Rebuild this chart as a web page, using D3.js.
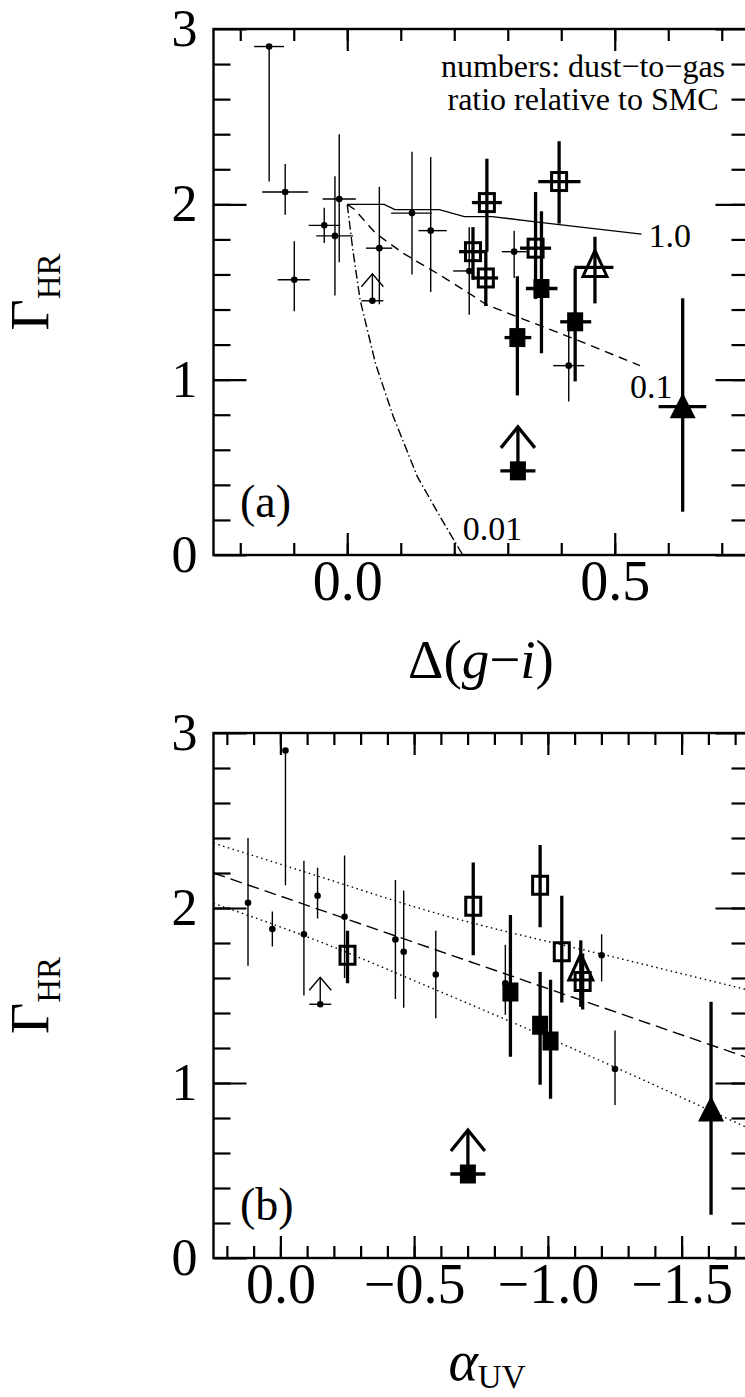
<!DOCTYPE html>
<html>
<head>
<meta charset="utf-8">
<script src="https://cdn.jsdelivr.net/npm/d3@7"></script>
<style>
  html, body { margin: 0; padding: 0; background: #fff; }
  svg { display: block; }
  text { font-family: "Liberation Serif", "Times New Roman", serif; fill: #000; }
</style>
</head>
<body>
<svg id="chart" width="745" height="1397"></svg>
<script>
// ---- data: one entry per source ----
const objType = [
  "dot","dot","dot","dot","dot","dot","dot","dot","dot","dot","dot","dot","dotLimit",
  "open","open","open","open","open",
  "filled","filled","filled","filledLimit",
  "openTri","filledTri"
];
const deltaGI   = [-0.146,-0.116,-0.099,-0.043,-0.023,-0.015,0.060,0.121,0.156,0.228,0.312,0.414,0.047,
                    0.261,0.235,0.259,0.396,0.352, 0.363,0.318,0.426,0.319, 0.463,0.627];
const deltaGILo = [-0.174,-0.159,-0.130,-0.072,-0.058,-0.046,0.035,0.082,0.133,0.198,0.289,0.385,null,
                    0.233,0.209,0.233,0.357,0.323, 0.334,0.294,0.398,null, 0.4245,0.582];
const deltaGIHi = [-0.118,-0.073,-0.070,-0.013,0.011,0.016,0.084,0.158,0.186,0.236,0.335,0.443,null,
                    0.289,0.261,0.282,0.436,0.381, 0.393,0.344,0.456,null, 0.4975,0.671];
const alphaUV   = [-0.019,-0.139,-0.841,0.030,-0.430,0.121,-0.461,-0.240,-0.088,-0.581,-1.201,-1.251,-0.149,
                    -0.721,-0.251,-1.130,-0.971,-1.052, -0.860,-1.010,-0.971,-0.701, -1.123,-1.610];
const gammaHR   = [2.90,2.07,1.57,1.88,1.82,2.03,1.75,1.95,1.85,1.62,1.73,1.08,1.45,
                    2.01,1.73,1.58,2.13,1.75, 1.52,1.24,1.33,0.48, 1.64,0.846];
const gammaLo   = [2.13,1.94,1.39,1.78,1.48,1.67,1.43,1.60,1.50,1.37,1.58,0.875,null,
                    1.73,1.57,1.42,1.89,1.46, 1.15,0.91,0.99,null, 1.435,0.247];
const gammaHi   = [2.90,2.23,1.79,1.98,2.16,2.40,2.10,2.30,2.27,1.87,1.85,1.30,null,
                    2.26,1.87,1.74,2.36,2.07, 1.96,1.59,1.635,null, 1.815,1.464];

// model tracks for dust-to-gas ratio relative to SMC
const curveLabels = ["1.0", "0.1", "0.01"];
const curve10  = [[0,2.0],[0.069,2.0],[0.089,1.97],[0.172,1.97],[0.219,1.93],[0.271,1.93],[0.352,1.90],[0.550,1.83]];
const curve01  = [[0,2.0],[0.014,1.97],[0.053,1.835],[0.105,1.72],[0.177,1.59],[0.229,1.49],[0.261,1.426],[0.430,1.226],[0.547,1.08]];
const curve001 = [[0,2.0],[0.010,1.75],[0.024,1.455],[0.053,1.09],[0.086,0.79],[0.131,0.447],[0.177,0.20],[0.216,0.0]];

// Gamma vs alpha_UV relation and its band
const fitAlpha = [0.25, -1.75];
const fitMid   = [2.20, 1.143];
const bandAlpha = [0.25, -0.143, -0.554, -1.302, -1.75];
const bandUpper = [2.371, 2.181, 1.983, 1.699, 1.531];
const bandLower = [2.027, 1.810, 1.550, 1.055, 0.741];

// tick values
const xTicksA = { minor: d3.range(-0.2, 0.75, 0.1).map(v => +v.toFixed(2)), major: [0.0, 0.5] };
const xTicksB = { minor: d3.range(0.2, -1.76, -0.1).map(v => +v.toFixed(2)), major: [0.0, -0.5, -1.0, -1.5] };
const yTicks  = { minor: d3.range(0.2, 3.0, 0.2).map(v => +v.toFixed(2)), major: [0, 1, 2, 3] };

// ---- layout ----
const svg = d3.select("#chart");
const X0 = 213.5, X1 = 748.5;
const THICK = 3.3, THIN = 1.4;

const xA = d3.scaleLinear().domain([-0.25, 0.75]).range([X0, X1]);
const yA = d3.scaleLinear().domain([0, 3]).range([555, 29]);
const xB = d3.scaleLinear().domain([0.25, -1.75]).range([X0, X1]);
const yB = d3.scaleLinear().domain([0, 3]).range([1258, 733]);

function styleAxis(sel, fontSize) {
  sel.select(".domain").remove();
  sel.selectAll("line").attr("stroke", "#000").attr("stroke-width", 2.2);
  sel.attr("font-family", "Liberation Serif, Times New Roman, serif").attr("font-size", fontSize);
  sel.selectAll("text").attr("fill", "#000");
}

function drawFrame(x, y, xt, fmt) {
  const [yb, yt] = y.range();
  const g = svg.append("g");
  g.append("g").attr("transform", `translate(0,${yb})`)
    .call(d3.axisBottom(x).tickValues(xt.minor).tickSize(-12).tickFormat(""))
    .call(s => styleAxis(s, 56));
  g.append("g").attr("transform", `translate(0,${yb})`)
    .call(d3.axisBottom(x).tickValues(xt.major).tickSize(-22).tickPadding(5).tickFormat(fmt))
    .call(s => styleAxis(s, 56));
  g.append("g").attr("transform", `translate(0,${yt})`)
    .call(d3.axisTop(x).tickValues(xt.minor).tickSize(-12).tickFormat(""))
    .call(s => styleAxis(s, 56));
  g.append("g").attr("transform", `translate(0,${yt})`)
    .call(d3.axisTop(x).tickValues(xt.major).tickSize(-22).tickFormat(""))
    .call(s => styleAxis(s, 56));
  g.append("g").attr("transform", `translate(${X0},0)`)
    .call(d3.axisLeft(y).tickValues(yTicks.minor).tickSize(-17).tickFormat(""))
    .call(s => styleAxis(s, 52));
  g.append("g").attr("transform", `translate(${X0},0)`)
    .call(d3.axisLeft(y).tickValues(yTicks.major).tickSize(-33).tickPadding(16).tickFormat(d3.format("d")))
    .call(s => styleAxis(s, 52));
  g.append("g").attr("transform", `translate(${X1},0)`)
    .call(d3.axisRight(y).tickValues(yTicks.minor).tickSize(-17).tickFormat(""))
    .call(s => styleAxis(s, 52));
  g.append("g").attr("transform", `translate(${X1},0)`)
    .call(d3.axisRight(y).tickValues(yTicks.major).tickSize(-33).tickFormat(""))
    .call(s => styleAxis(s, 52));
  g.append("rect")
    .attr("x", X0).attr("y", yt).attr("width", X1 - X0).attr("height", yb - yt)
    .attr("fill", "none").attr("stroke", "#000").attr("stroke-width", 2.4);
}

function drawPoints(x, y, xv, showXErr) {
  const g = svg.append("g");
  const idx = d3.range(objType.length);
  const order = idx.slice().sort((a, b) =>
    (objType[a].startsWith("dot") ? 0 : 1) - (objType[b].startsWith("dot") ? 0 : 1));
  order.forEach(i => {
    const t = objType[i];
    const cx = x(xv[i]), cy = y(gammaHR[i]);
    const sw = t.startsWith("dot") ? THIN : THICK;
    const ln = (x1, y1, x2, y2) => g.append("line")
      .attr("x1", x1).attr("y1", y1).attr("x2", x2).attr("y2", y2)
      .attr("stroke", "#000").attr("stroke-width", sw);

    if (t.endsWith("Limit")) {
      // lower limit: base bar, shaft and open arrow head
      const big = t === "filledLimit";
      const base = big ? 35 : 22, len = big ? 44 : 27, hw = big ? 17 : 11, hh = big ? 21 : 13;
      ln(cx - base / 2, cy, cx + base / 2, cy);
      ln(cx, cy, cx, cy - len);
      g.append("path")
        .attr("d", `M${cx - hw},${cy - len + hh}L${cx},${cy - len}L${cx + hw},${cy - len + hh}`)
        .attr("fill", "none").attr("stroke", "#000").attr("stroke-width", sw);
    } else {
      ln(cx, y(gammaLo[i]), cx, y(gammaHi[i]));
      if (showXErr) ln(x(deltaGILo[i]), cy, x(deltaGIHi[i]), cy);
    }

    if (t.startsWith("dot")) {
      g.append("circle").attr("cx", cx).attr("cy", cy).attr("r", 3.3).attr("fill", "#000");
    } else if (t === "open") {
      g.append("rect").attr("x", cx - 7.5).attr("y", cy - 9).attr("width", 15).attr("height", 18)
        .attr("fill", "none").attr("stroke", "#000").attr("stroke-width", 3);
    } else if (t === "filled" || t === "filledLimit") {
      g.append("rect").attr("x", cx - 8).attr("y", cy - 9.5).attr("width", 16).attr("height", 19)
        .attr("fill", "#000");
    } else if (t === "openTri") {
      g.append("path").attr("d", `M${cx},${cy - 17}L${cx - 12},${cy + 9}L${cx + 12},${cy + 9}Z`)
        .attr("fill", "none").attr("stroke", "#000").attr("stroke-width", 3);
    } else if (t === "filledTri") {
      g.append("path").attr("d", `M${cx},${cy - 14}L${cx - 13},${cy + 11.5}L${cx + 13},${cy + 11.5}Z`)
        .attr("fill", "#000");
    }
  });
}

// ---------- panel (a) ----------
drawFrame(xA, yA, xTicksA, d3.format(".1f"));

const lineA = d3.line().x(d => xA(d[0])).y(d => yA(d[1]));
const tracks = [
  { pts: curve10,  dash: null,        dx: 7,   dy: 13 },
  { pts: curve01,  dash: "9,6",       dx: -10, dy: 32 },
  { pts: curve001, dash: "9,3,1.5,3", dx: 0,   dy: -15 }
];
tracks.forEach((tr, k) => {
  svg.append("path").attr("d", lineA(tr.pts))
    .attr("fill", "none").attr("stroke", "#000").attr("stroke-width", 1.4)
    .attr("stroke-dasharray", tr.dash);
  const last = tr.pts[tr.pts.length - 1];
  svg.append("text")
    .attr("x", xA(last[0]) + tr.dx).attr("y", yA(last[1]) + tr.dy)
    .attr("font-size", 34).text(curveLabels[k]);
});

drawPoints(xA, yA, deltaGI, true);

svg.append("text").attr("x", 583).attr("y", 77).attr("text-anchor", "middle")
  .attr("font-size", 32).text("numbers: dust\u2212to\u2212gas");
svg.append("text").attr("x", 583).attr("y", 110).attr("text-anchor", "middle")
  .attr("font-size", 32).text("ratio relative to SMC");
svg.append("text").attr("x", 240).attr("y", 517).attr("font-size", 46).text("(a)");

// x title: Δ(g−i)
const tA = svg.append("text").attr("x", 481).attr("y", 678).attr("text-anchor", "middle").attr("font-size", 55);
tA.append("tspan").text("\u0394(");
tA.append("tspan").attr("font-style", "italic").text("g");
tA.append("tspan").text("\u2212");
tA.append("tspan").attr("font-style", "italic").text("i");
tA.append("tspan").text(")");

// ---------- panel (b) ----------
drawFrame(xB, yB, xTicksB, d3.format(".1f"));

svg.append("line")
  .attr("x1", xB(fitAlpha[0])).attr("y1", yB(fitMid[0]))
  .attr("x2", xB(fitAlpha[1])).attr("y2", yB(fitMid[1]))
  .attr("stroke", "#000").attr("stroke-width", 1.4).attr("stroke-dasharray", "12,6");

const bandLine = d3.line().x(d => xB(d[0])).y(d => yB(d[1])).curve(d3.curveMonotoneX);
[bandUpper, bandLower].forEach(vals => {
  svg.append("path").attr("d", bandLine(bandAlpha.map((a, i) => [a, vals[i]])))
    .attr("fill", "none").attr("stroke", "#000").attr("stroke-width", 1.4)
    .attr("stroke-dasharray", "1.5,3.5");
});

drawPoints(xB, yB, alphaUV, false);

svg.append("text").attr("x", 240).attr("y", 1220).attr("font-size", 46).text("(b)");

const tB = svg.append("text").attr("x", 487).attr("y", 1380).attr("text-anchor", "middle");
tB.append("tspan").attr("font-size", 56).attr("font-style", "italic").text("\u03B1");
tB.append("tspan").attr("font-size", 33).attr("dy", 8).text("UV");

// y titles: Γ_HR
[yA, yB].forEach(y => {
  const cy = (y.range()[0] + y.range()[1]) / 2;
  const t = svg.append("text").attr("transform", `translate(48,${cy}) rotate(-90)`)
    .attr("text-anchor", "middle");
  t.append("tspan").attr("font-size", 54).text("\u0393");
  t.append("tspan").attr("font-size", 33).attr("dy", 12).text("HR");
});
</script>
</body>
</html>
